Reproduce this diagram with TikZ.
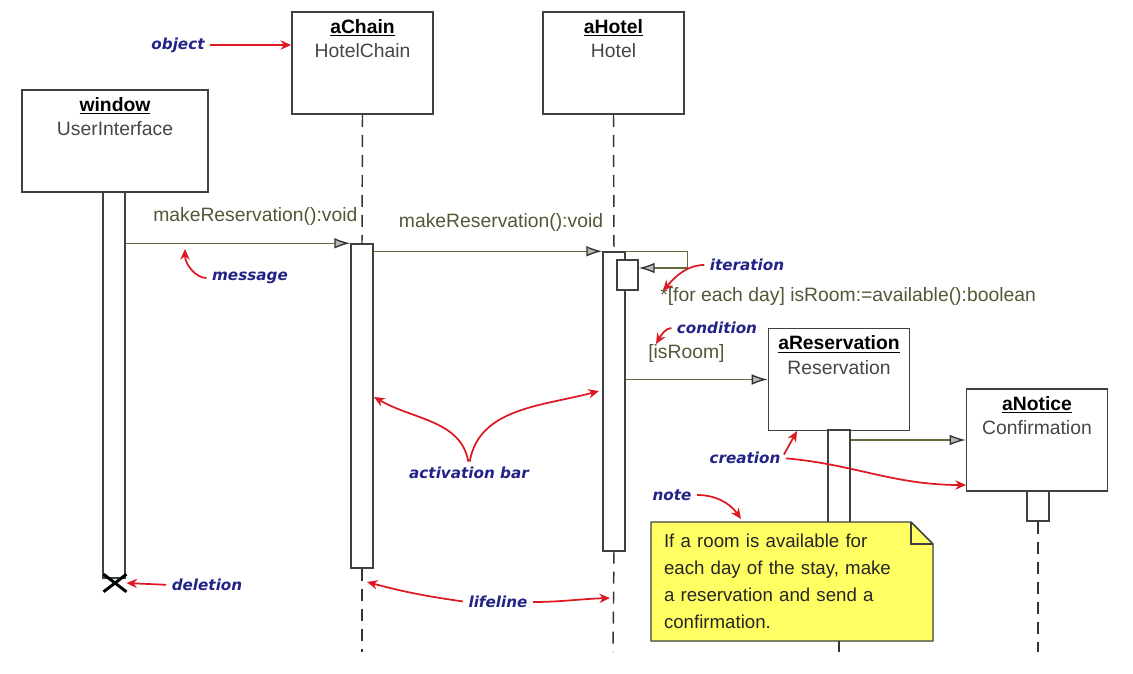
\documentclass[tikz,border=0pt]{standalone}
\usepackage{xcolor}
\usepackage{fontspec}
\setmainfont{Liberation Sans}
\newfontfamily\annofont{DejaVu Sans}
\usepackage{tikz}
\usetikzlibrary{arrows.meta,shapes.misc,calc}

\definecolor{msgcol}{RGB}{105,105,60}
\definecolor{msgtext}{RGB}{85,85,55}
\definecolor{annocol}{RGB}{35,35,135}
\definecolor{calloutcol}{RGB}{220,25,35}
\definecolor{notecol}{RGB}{255,255,100}
\definecolor{boxtext}{RGB}{70,70,70}

\tikzset{
  objbox/.style={draw=black!75, line width=1.2pt, fill=white, minimum width=105.75pt, minimum height=76.5pt, inner sep=0pt},
  objtext/.style={anchor=north, align=center, inner sep=0pt, text=boxtext, font=\fontsize{14.5}{18.25}\selectfont},
  actbar/.style={draw=black!75, line width=1.1pt, fill=white, minimum width=16.5pt, inner sep=0pt},
  lifeln/.style={draw=black!80, line width=1.1pt, dash pattern=on 9pt off 6pt},
  msg/.style={draw=msgcol, line width=1pt, -{Latex[length=12pt,width=8pt,fill=gray!55,color=gray!40!black]}},
  msglabel/.style={text=msgtext, inner sep=0pt, font=\fontsize{14.5}{17}\selectfont},
  anno/.style={text=annocol, inner sep=1pt, font=\annofont\bfseries\itshape\fontsize{11.4}{13}\selectfont},
  callout/.style={draw=calloutcol, line width=1.3pt, shorten <=3pt, -{Stealth[length=8pt,width=7pt]}},
  notebox/.style={draw=black!75, line width=1.1pt, fill=notecol},
  notetext/.style={align=left, inner sep=0pt, text width=192pt, text=black!85, font=\fontsize{14}{20.25}\selectfont},
}

\begin{document}
\begin{tikzpicture}[x=0.75pt,y=0.75pt,yscale=-1,xscale=1]
\path[use as bounding box] (0,0) rectangle (1133,674);

%Lifeline ends
\coordinate (chainend) at (362,652);
\coordinate (hotelend) at (613,652);
\coordinate (resend) at (839,652);
\coordinate (noticeend) at (1038,652);

%Objects (y axis is flipped: a positive yshift moves down)
\node[objbox, minimum width=139.5pt] (window) at (115,141) {};
\node[objtext] (windowtxt) at ([yshift=6pt]window.north) {{\color{black}\underline{\textbf{window}}}\\UserInterface};
\node[objbox] (chain) at (362.5,63) {};
\node[objtext] (chaintxt) at ([yshift=6pt]chain.north) {{\color{black}\underline{\textbf{aChain}}}\\HotelChain};
\node[objbox] (hotel) at (613.5,63) {};
\node[objtext] (hoteltxt) at ([yshift=6pt]hotel.north) {{\color{black}\underline{\textbf{aHotel}}}\\Hotel};
\node[objbox] (res) at (839,379.5) {};
\node[objtext] (restxt) at ([yshift=6pt]res.north) {{\color{black}\underline{\textbf{aReservation}}}\\Reservation};
\node[objbox] (notice) at (1037,440) {};
\node[objtext] (noticetxt) at ([yshift=6pt]notice.north) {{\color{black}\underline{\textbf{aNotice}}}\\Confirmation};

%Activation bars
\node[actbar, minimum height=289.5pt] (winbar) at (114,385) {};
\node[actbar, minimum height=243pt] (chainbar) at (362,406) {};
\node[actbar, minimum height=224.25pt] (hotelbar) at (614,401.5) {};
\node[actbar, minimum width=15.75pt, minimum height=22.5pt] (loopbar) at (627.5,275) {};
\node[actbar, minimum height=22.5pt] (noticebar) at (1038,506) {};

%Lifelines
\draw[lifeln] (chain.south) -- (chainbar.north);
\draw[lifeln] (chainbar.south) -- (chainend);
\draw[lifeln] (hotel.south) -- (hotelbar.north);
\draw[lifeln] (hotelbar.south) -- (hotelend);
\draw[lifeln] (noticebar.south) -- (noticeend);
\draw[draw=black!80, line width=1.1pt] (res.south) -- (resend);
\node[actbar, minimum height=127.5pt] (resbar) at (839,515) {};

%Deletion
\node[cross out, draw=black, line width=2.2pt, minimum width=15pt, minimum height=11pt, inner sep=0pt] (kill) at (115,583) {};

%Messages
\draw[msg] (winbar.east |- chainbar.north) -- (chainbar.north west);
\draw[msg] (chainbar.east |- hotelbar.north) -- (hotelbar.north west);
\draw[msg] (hotelbar.north east) -- ++(62,0) |- ([yshift=-5.25pt]loopbar.east);
\draw[msg] (hotelbar.east |- res.west) -- (res.west);
\draw[msg] (resbar.east |- notice.west) -- (notice.west);

% Text Node
\node[msglabel, anchor=west] (msg1txt) at (153,216) {makeReservation():void};
\node[msglabel] (msg2txt) at (501,222) {makeReservation():void};
\node[msglabel, anchor=west] (looptxt) at (660,297) {*[for each day] isRoom:=available():boolean};
\node[msglabel, anchor=west] (condtxt) at (648,354) {[isRoom]};

%Note
\coordinate (notenw) at (651,522);
\coordinate (notese) at (933,641);
\draw[notebox] (notenw) -- ($(notenw -| notese)+(-22,0)$) -- ($(notenw -| notese)+(0,22)$) -- (notese) -- (notenw |- notese) -- cycle;
\draw[draw=black!75, line width=1.1pt] ($(notenw -| notese)+(-22,0)$) -- ($(notenw -| notese)+(-22,22)$) -- ($(notenw -| notese)+(0,22)$);
\node[notetext] (note) at ($(notenw)!0.5!(notese)$) {If a room is available for\\each day of the stay, make\\a reservation and send a\\confirmation.};

%Callout targets
\coordinate (msgpt) at (185,249);
\coordinate (iterpt) at (663,291);
\coordinate (condpt) at (656,344);
\coordinate (respt) at (797,431);
\coordinate (noticept) at (966,485);
\coordinate (notept) at (741,519);
\coordinate (chainpt) at (374,397);
\coordinate (hotelpt) at (599,391);
\coordinate (lifept1) at (367,582);
\coordinate (lifept2) at (610,598);

% Annotations
\node[anno] (objectlbl) at (178,45) {object};
\node[anno] (messagelbl) at (250,278) {message};
\node[anno] (iterlbl) at (747,265) {iteration};
\node[anno] (condlbl) at (717,328) {condition};
\node[anno] (creatlbl) at (745,458) {creation};
\node[anno] (notelbl) at (672,495) {note};
\node[anno] (actlbl) at (469,473) {activation bar};
\node[anno] (dellbl) at (207,585) {deletion};
\node[anno] (lifelbl) at (498,602) {lifeline};

%Callouts (angles are flipped too)
\draw[callout] (objectlbl.east) -- (chain.west |- objectlbl.east);
\draw[callout] (messagelbl.west) to[out=180,in=90] (msgpt);
\draw[callout] (iterlbl.west) to[out=180,in=-50] (iterpt);
\draw[callout] (condlbl.west) to[out=180,in=-60] (condpt);
\draw[callout] (creatlbl.east) -- (respt);
\draw[callout] (creatlbl.east) to[out=5,in=180] (noticept);
\draw[callout] (notelbl.east) to[out=0,in=-125] (notept);
\draw[callout] (actlbl.north) to[out=-100,in=30] (chainpt);
\draw[callout] (actlbl.north) to[out=-80,in=165] (hotelpt);
\draw[callout] (dellbl.west) -- (kill.east);
\draw[callout] (lifelbl.west) to[out=188,in=15] (lifept1);
\draw[callout] (lifelbl.east) to[out=0,in=178] (lifept2);

\end{tikzpicture}
\end{document}
